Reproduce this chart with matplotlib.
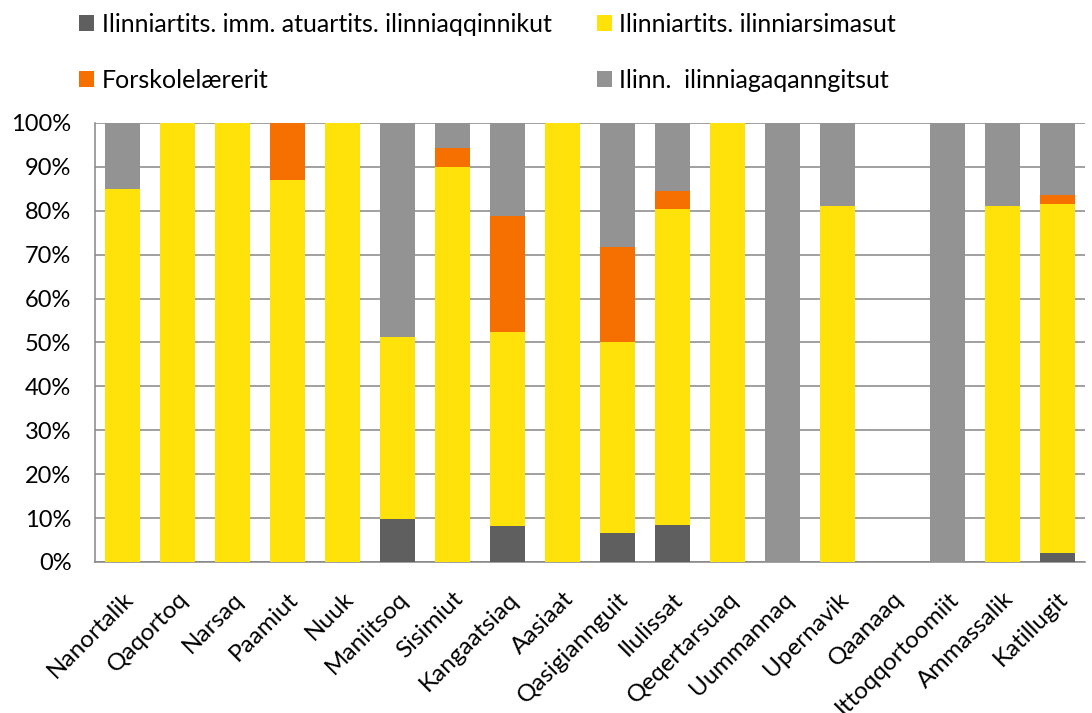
import numpy as np
import matplotlib.pyplot as plt
import matplotlib.transforms as mtransforms

# --- Data (shares in %) ---
towns = ["Nanortalik", "Qaqortoq", "Narsaq", "Paamiut", "Nuuk", "Maniitsoq",
         "Sisimiut", "Kangaatsiaq", "Aasiaat", "Qasigiannguit", "Ilulissat",
         "Qeqertarsuaq", "Uummannaq", "Upernavik", "Qaanaaq", "Ittoqqortoomiit",
         "Ammassalik", "Katillugit"]

series_names = ["Ilinniartits. imm. atuartits. ilinniaqqinnikut",
                "Ilinniartits. ilinniarsimasut",
                "Forskolelærerit",
                "Ilinn.  ilinniagaqanngitsut"]

imm_atuartits = [0, 0, 0, 0, 0, 9.8, 0, 8.2, 0, 6.6, 8.5, 0, 0, 0, 0, 0, 0, 2.0]
ilinniarsimasut = [85.0, 100, 100, 87.0, 100, 41.4, 90.0, 44.3, 100, 43.5, 71.8,
                   100, 0, 81.0, 0, 0, 81.2, 79.6]
forskole = [0, 0, 0, 13.0, 0, 0, 4.3, 26.4, 0, 21.7, 4.1, 0, 0, 0, 0, 0, 0, 1.9]
ilinniagaqanngitsut = [15.0, 0, 0, 0, 0, 48.8, 5.7, 21.1, 0, 28.2, 15.6, 0,
                       100, 19.0, 0, 100, 18.8, 16.5]

colors = ["#5f5f5f", "#ffe20a", "#f57000", "#939393"]

plt.rcParams['font.family'] = ['Lato', 'DejaVu Sans']

fig = plt.figure(figsize=(10.92, 7.13), dpi=100)
ax = fig.add_axes([0.087, 0.2118, 0.9066, 0.6157])

x = np.arange(len(towns))
bottom = np.zeros(len(towns))
bars = []
for name, vals, col in zip(series_names,
                           [imm_atuartits, ilinniarsimasut, forskole, ilinniagaqanngitsut],
                           colors):
    vals = np.array(vals, dtype=float)
    bars.append(ax.bar(x, vals, 0.627, bottom=bottom, color=col, label=name, zorder=3))
    bottom += vals

ax.set_xlim(-0.5, len(towns) - 0.5)
ax.set_ylim(0, 100)
ax.set_yticks(np.arange(0, 101, 10))
ax.set_yticklabels([f"{v}%" for v in range(0, 101, 10)], fontsize=17)
ax.set_xticks(x)
ax.set_xticklabels(towns, rotation=45, ha='right', va='top',
                   rotation_mode='anchor', fontsize=17.5)
# nudge the rotated labels a little to the right, like the original
shift = mtransforms.ScaledTranslation(6 / 72, 0, fig.dpi_scale_trans)
for lbl in ax.get_xticklabels():
    lbl.set_transform(lbl.get_transform() + shift)
ax.tick_params(axis='y', length=0, pad=17)
ax.tick_params(axis='x', length=0, pad=19)
ax.grid(axis='y', color='#868686', linewidth=1.1, zorder=0)
for side in ['top', 'right']:
    ax.spines[side].set_visible(False)
for side in ['left', 'bottom']:
    ax.spines[side].set_color('#868686')
    ax.spines[side].set_linewidth(1.1)

# legend rows: (dark, yellow) / (orange, gray); matplotlib fills by column
order = [0, 2, 1, 3]
fig.legend([bars[i] for i in order], [series_names[i] for i in order],
           loc='upper left', bbox_to_anchor=(0.052, 1.014), ncol=2,
           frameon=False, fontsize=18, handlelength=0.6, handleheight=0.6,
           handletextpad=0.3, columnspacing=1.8, labelspacing=1.32)

fig.savefig("out.png", dpi=100)
